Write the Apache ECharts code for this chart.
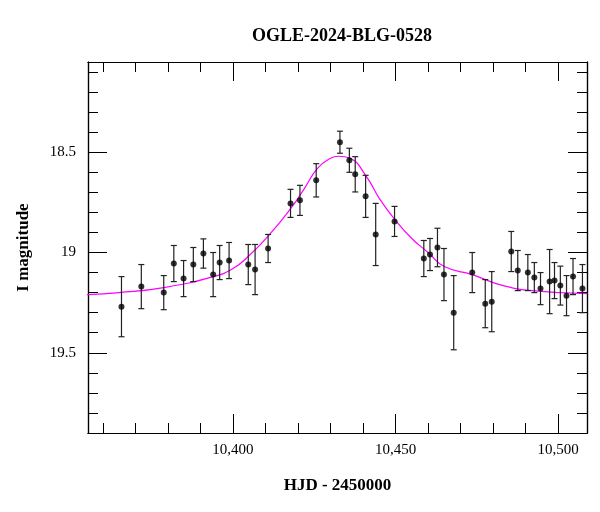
<!DOCTYPE html>
<html>
<head>
<meta charset="utf-8">
<script src="https://cdn.jsdelivr.net/npm/echarts@6/dist/echarts.min.js"></script>
<style>html,body{margin:0;padding:0;background:#fff}#chart{width:600px;height:512px}</style>
</head>
<body>
<div id="chart"></div>
<script>
var days = [10365.7, 10371.8, 10378.7, 10381.8, 10384.8, 10387.8, 10390.9, 10393.9, 10395.9, 10398.8,
  10404.7, 10406.8, 10410.8, 10417.7, 10420.6, 10425.6, 10432.9, 10435.8, 10437.6, 10440.8,
  10443.9, 10449.7, 10458.7, 10460.6, 10462.9, 10464.9, 10467.9, 10473.6, 10477.6, 10479.6,
  10485.6, 10487.6, 10490.7, 10492.7, 10494.6, 10497.4, 10498.9, 10500.7, 10502.6, 10504.6, 10507.5];
var mags = [19.27, 19.17, 19.20, 19.055, 19.13, 19.06, 19.005, 19.11, 19.05, 19.04,
  19.06, 19.085, 18.98, 18.755, 18.74, 18.64, 18.45, 18.54, 18.61, 18.72,
  18.91, 18.845, 19.03, 19.01, 18.975, 19.11, 19.30, 19.10, 19.255, 19.245,
  18.995, 19.09, 19.10, 19.125, 19.18, 19.145, 19.14, 19.165, 19.215, 19.12, 19.18];
var errs = [0.15, 0.11, 0.085, 0.09, 0.09, 0.085, 0.073, 0.11, 0.085, 0.09,
  0.10, 0.125, 0.07, 0.07, 0.075, 0.083, 0.055, 0.06, 0.088, 0.105,
  0.155, 0.075, 0.09, 0.08, 0.096, 0.13, 0.185, 0.10, 0.12, 0.15,
  0.10, 0.10, 0.09, 0.075, 0.08, 0.16, 0.09, 0.097, 0.10, 0.09, 0.12];
var modelDays = [10355, 10365, 10378.7, 10394, 10400, 10405, 10411, 10418, 10422, 10426, 10430,
  10432.5, 10436, 10441, 10445, 10450, 10455, 10460, 10465, 10473.6, 10482, 10492, 10509];
var modelMags = [19.21, 19.2, 19.175, 19.12, 19.08, 19.015, 18.915, 18.775, 18.68, 18.58, 18.53,
  18.52, 18.53, 18.62, 18.73, 18.84, 18.93, 19.0, 19.07, 19.11, 19.16, 19.19, 19.205];
var xMajor = [10400, 10450, 10500];
var xMinor = [10360, 10370, 10380, 10390, 10410, 10420, 10430, 10440, 10460, 10470, 10480, 10490];
var yMajor = [18.5, 19, 19.5];
var yMinor = [18.1, 18.2, 18.3, 18.4, 18.6, 18.7, 18.8, 18.9, 19.1, 19.2, 19.3, 19.4, 19.6, 19.7, 19.8];

var font = 'Liberation Serif';
var xMin = 10355.4, xMax = 10508.9, yMin = 18.05, yMax = 19.9;

function xAx(pos, vals, len, labels) {
  return {
    type: 'value', position: pos, min: xMin, max: xMax,
    axisLine: { show: true, lineStyle: { color: '#000', width: 1.2 } },
    axisTick: { show: true, inside: true, length: len, customValues: vals, lineStyle: { color: '#000' } },
    axisLabel: labels ? { show: true, customValues: vals, color: '#000', fontFamily: font, fontSize: 15, margin: 10 } : { show: false },
    splitLine: { show: false }
  };
}
function yAx(pos, vals, len, labels) {
  return {
    type: 'value', position: pos, inverse: true, min: yMin, max: yMax,
    axisLine: { show: true, lineStyle: { color: '#000', width: 1.2 } },
    axisTick: { show: true, inside: true, length: len, customValues: vals, lineStyle: { color: '#000' } },
    axisLabel: labels ? { show: true, customValues: vals, color: '#000', fontFamily: font, fontSize: 15, margin: 12 } : { show: false },
    splitLine: { show: false }
  };
}

var xAxes = [xAx('bottom', xMajor, 19, true), xAx('bottom', xMinor, 10, false),
  xAx('top', xMajor, 19, false), xAx('top', xMinor, 10, false)];
xAxes[0].name = 'HJD - 2450000';
xAxes[0].nameLocation = 'middle';
xAxes[0].nameGap = 44;
xAxes[0].nameTextStyle = { color: '#000', fontFamily: font, fontSize: 17, fontWeight: 'bold' };
var yAxes = [yAx('left', yMajor, 19, true), yAx('left', yMinor, 10, false),
  yAx('right', yMajor, 19, false), yAx('right', yMinor, 10, false)];
yAxes[0].name = 'I magnitude';
yAxes[0].nameLocation = 'middle';
yAxes[0].nameGap = 56;
yAxes[0].nameTextStyle = { color: '#000', fontFamily: font, fontSize: 17, fontWeight: 'bold' };

var points = days.map(function (d, i) { return [d, mags[i]]; });
var bars = days.map(function (d, i) { return [d, mags[i] - errs[i], mags[i] + errs[i]]; });
var model = modelDays.map(function (d, i) { return [d, modelMags[i]]; });

var chart = echarts.init(document.getElementById('chart'));
chart.setOption({
  animation: false,
  title: {
    text: 'OGLE-2024-BLG-0528', left: 337, top: 22, textAlign: 'center',
    textStyle: { color: '#000', fontFamily: font, fontSize: 18, fontWeight: 'bold' }
  },
  grid: { left: 88, right: 13, top: 62, bottom: 79 },
  xAxis: xAxes,
  yAxis: yAxes,
  series: [
    {
      type: 'line', data: model, smooth: true, showSymbol: false,
      lineStyle: { color: '#ff00ff', width: 1.2 }, z: 2
    },
    {
      type: 'custom', data: bars, z: 3,
      renderItem: function (params, api) {
        var top = api.coord([api.value(0), api.value(1)]);
        var bot = api.coord([api.value(0), api.value(2)]);
        var c = 3;
        var st = { stroke: '#222', lineWidth: 1.2 };
        return { type: 'group', children: [
          { type: 'line', shape: { x1: top[0], y1: top[1], x2: bot[0], y2: bot[1] }, style: st },
          { type: 'line', shape: { x1: top[0] - c, y1: top[1], x2: top[0] + c, y2: top[1] }, style: st },
          { type: 'line', shape: { x1: bot[0] - c, y1: bot[1], x2: bot[0] + c, y2: bot[1] }, style: st }
        ] };
      }
    },
    {
      type: 'scatter', data: points, symbolSize: 6, z: 4,
      itemStyle: { color: '#000' }
    }
  ]
});
</script>
</body>
</html>
